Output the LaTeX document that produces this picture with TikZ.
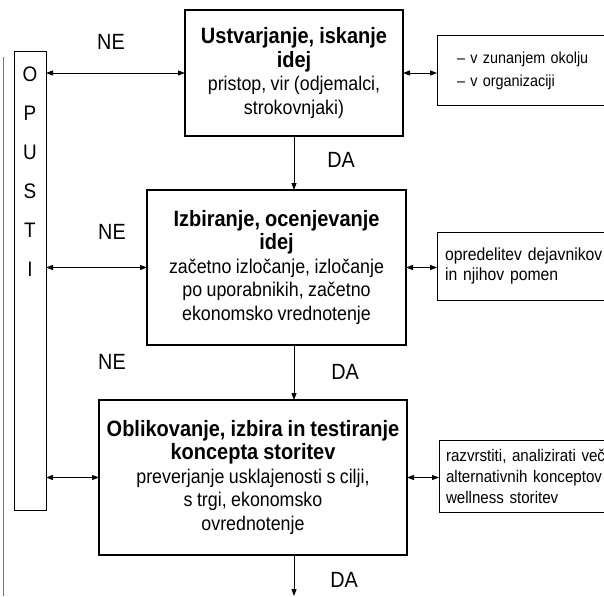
\documentclass[tikz,border=0pt]{standalone}
\usepackage{fontspec}
\setmainfont{Liberation Sans}[FakeStretch=0.9, WordSpace=0.9]
\usetikzlibrary{arrows.meta}
\newcommand\ttl[1]{{\bfseries\fontsize{22.2}{23}\selectfont #1}}
\begin{document}
\begin{tikzpicture}[x=1pt,y=-1pt,
  every node/.style={inner sep=0pt, outer sep=0pt},
  mainbox/.style={draw, line width=1.2pt, align=center, anchor=north west,
    font=\fontsize{19.8}{23.5}\selectfont},
  sidebox/.style={draw, line width=1pt, align=left, anchor=north west},
  lbl/.style={font=\fontsize{22}{24}\selectfont},
  link/.style={line width=0.9pt, {Triangle[length=7pt,width=5pt]}-{Triangle[length=7pt,width=5pt]}},
  downarrow/.style={line width=0.9pt, -{Triangle[length=7pt,width=5pt]}}
]
\useasboundingbox (0,0) rectangle (604,596);
\clip (0,0) rectangle (604,596);

% cropped frame line at the left
\draw[black!55, line width=0.8pt] (3,57) -- (3,596);

% OPUSTI column
\node[draw, line width=1pt, anchor=north west, minimum width=32pt, minimum height=458pt] (opusti) at (14,52) {};
\node[align=center, font=\fontsize{21}{39}\selectfont] (letters) at (30,172) {O\\P\\U\\S\\T\\I};

% main boxes
\node[mainbox, minimum width=218pt, minimum height=126pt] (b1) at (185,10)
  {\ttl{Ustvarjanje, iskanje}\\ \ttl{idej}\\ pristop, vir (odjemalci,\\ strokovnjaki)};
\node[mainbox, minimum width=259pt, minimum height=155pt] (b2) at (147,190)
  {\ttl{Izbiranje, ocenjevanje}\\ \ttl{idej}\\ začetno izločanje, izločanje\\ po uporabnikih, začetno\\ ekonomsko vrednotenje};
\node[mainbox, minimum width=308pt, minimum height=155pt] (b3) at (99,400)
  {\ttl{Oblikovanje, izbira in testiranje}\\ \ttl{koncepta storitev}\\ preverjanje usklajenosti s cilji,\\ s trgi, ekonomsko\\ ovrednotenje};

% side boxes
\node[sidebox, inner xsep=20pt, text width=200pt, minimum height=70pt,
  font=\fontsize{16}{23}\selectfont] (r1) at (437,36)
  {– v zunanjem okolju\\ – v organizaciji};
\node[sidebox, inner xsep=8pt, text width=220pt, minimum height=68pt,
  font=\fontsize{17.5}{20}\selectfont] (r2) at (437,232)
  {opredelitev dejavnikov\\ in njihov pomen};
\node[sidebox, inner xsep=7pt, text width=220pt, minimum height=72pt,
  font=\fontsize{16.8}{21}\selectfont] (r3) at (439,440)
  {razvrstiti, analizirati več\\ alternativnih konceptov\\ wellness storitev};

% labels
\node[lbl] (ne1) at (111,42) {NE};
\node[lbl] (ne2) at (112,232) {NE};
\node[lbl] (ne3) at (112,362) {NE};
\node[lbl] (da1) at (341,160) {DA};
\node[lbl] (da2) at (345,372) {DA};
\node[lbl] (da3) at (344,580) {DA};

% connectors
\draw[link] (opusti.east |- b1.west) -- (b1.west);
\draw[link] (opusti.east |- b2.west) -- (b2.west);
\draw[link] (opusti.east |- b3.west) -- (b3.west);
\draw[link] (b1.east) -- (r1.west |- b1.east);
\draw[link] (b2.east) -- (r2.west |- b2.east);
\draw[link] (b3.east) -- (r3.west |- b3.east);
\draw[downarrow] (b1.south) -- (b2.north -| b1.south);
\draw[downarrow] (b2.south -| b1.south) -- (b3.north -| b1.south);
\coordinate (end) at (294,596);
\draw[downarrow] (b3.south -| b1.south) -- (end);
\end{tikzpicture}
\end{document}
